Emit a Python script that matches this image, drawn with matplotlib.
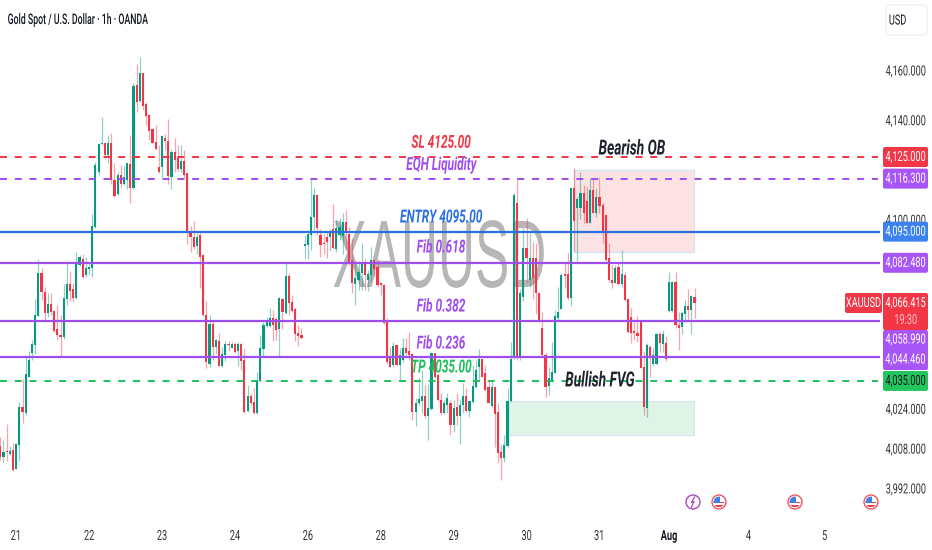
import matplotlib
matplotlib.use('Agg')
import matplotlib.pyplot as plt
from matplotlib.patches import Circle, FancyBboxPatch, Rectangle
from matplotlib.patheffects import AbstractPathEffect
from matplotlib.transforms import Affine2D

# hourly candles
opens = [4008.8,4004.3,4006.8,4005.6,4007.2,3999.6,4009.2,4024.4,4022,4036.7,
4046.3,4049.4,4061.2,4078.2,4070.9,4062.2,4065.9,4063.2,4055.9,4053.4,
4052.5,4067.8,4074,4071.8,4068.2,4081.6,4084.2,4077.5,4079.8,4080.2,
4096.7,4119,4130.2,4130.5,4125.8,4130.7,4115.7,4110,4117.7,4114.1,
4115.7,4122.2,4112.4,4153.9,4147.6,4158.6,4146.3,4141.9,4136.1,4131.1,
4121.1,4120.8,4132.7,4131.4,4116.8,4127.1,4124.4,4120.1,4123.5,4118.4,
4095.4,4092.9,4089.2,4093.6,4085.6,4061.5,4042,4057.9,4048.5,4051.2,
4041.1,4045.4,4049.7,4048.4,4049.7,4047,4049.7,4043.4,4023,4029.1,
4026.7,4022.2,4035.1,4047.8,4057.2,4057.1,4060.1,4059.7,4055.7,4067.8,
4062.2,4077.3,4066.8,4063.9,4054.1,4053.5,
4089.4,4089.6,4093.6,4100.7,4109.7,4093.6,4090.6,4092.9,4092.7,4095.9,
4088.1,4093.6,4093.2,4099,4094,4083.6,4074,4075.5,4078.2,4082.2,
4075.5,4077.6,4083.6,4080.9,4074.5,4073.5,4058.8,4044.7,4041.4,4049.4,
4041.4,4043.4,4048.1,4047.2,4045.8,4022.6,4026,4027,4028.9,4020.9,
4023.6,4046.1,4037.4,4027.3,4022,4025.3,4026,4017.3,4024.4,4020.9,
4025.3,4028.9,4023,4026.7,4032.7,4040.7,4043.7,4038,4032.4,4024.9,
4032.4,4022.6,4006.5,4003.9,4009,4027,4044.1,4106.6,4044.1,4068.9,
4088.3,4075.5,4084.3,4084.3,4070.2,4056.1,4045.4,4033,4035.4,4038.3,
4060.1,4064.1,4078,4078,4068.2,4112.4,4104.4,4104.4,4110.4,4107.5,
4098.6,4111.7,4102.6,4109,
4105.7,4101.7,4084.3,4075.5,4074.5,4080.6,4073.9,4077.6,4067.8,4060.5,
4055.2,4054.4,4058.8,4040.7,4024.3,4048.7,4042,4042,4053.8,4049.9,
4050.3,4063.2,4063.2,4074.9,4057.5,4056.5,4061.9,4065.1,4063.5,4068.8]
highs = [4012.6,4011.2,4017.7,4008.8,4010.2,4009.9,4026.6,4035.6,4044.7,4047.2,
4051.4,4067.8,4084,4080.2,4072.6,4070.2,4070.2,4063.5,4065.5,4061.5,
4074,4083,4079.3,4074.2,4086.9,4085.5,4086.2,4084.9,4082.9,4102,
4123.1,4130.5,4140.9,4130.7,4133.8,4134.5,4122.7,4119,4121.8,4121.3,
4122.7,4133.8,4154.6,4162.4,4165.3,4158.6,4147.2,4142.1,4136.5,4137.8,
4129.8,4133.8,4134.2,4140.2,4128.4,4132.5,4129.8,4129.8,4127.8,4118.7,
4097.2,4099.2,4094.6,4094.3,4086,4067.3,4061.5,4059.5,4051.7,4054.4,
4048.5,4051,4051,4050.6,4050.5,4050.8,4050.1,4048.1,4033.4,4030,
4032,4038.7,4053.5,4058.8,4060.5,4064.2,4063.5,4060.5,4068.6,4068.2,
4082.3,4078.2,4069.5,4064.2,4057.5,4056.1,
4093.6,4094.3,4116,4112.4,4109.7,4095.9,4094,4095,4096,4106.1,
4100,4100.3,4102.3,4103.7,4097,4092.3,4082.3,4083.3,4090.3,4084.2,
4079.6,4089,4083.9,4083.9,4074.9,4074,4060.1,4048.8,4050.8,4049.4,
4048.1,4052.1,4052.1,4054.8,4046.1,4028,4036,4039.4,4033.4,4033.7,
4046.8,4046.3,4038,4030,4027.3,4030,4027.3,4027.3,4030,4027.6,
4034,4032,4027.3,4041.4,4043.4,4047.7,4044,4041.4,4035.4,4035.4,
4032.9,4026,4009.2,4013.3,4032,4050.8,4110.4,4116,4072,4096.3,
4100.3,4094.3,4091,4090.3,4070.2,4062.8,4046.1,4040.7,4050.8,4063.5,
4072.9,4078.2,4082.2,4086.3,4112.4,4120.4,4109,4119,4113.7,4113,
4116.4,4116.4,4112.4,4117,
4106.6,4101.7,4090.3,4081.6,4081.6,4082.2,4087.6,4078.9,4067.8,4064.2,
4058.8,4061.1,4058.8,4046.7,4050.1,4049.4,4048.7,4054.4,4054.8,4055.4,
4053,4078.9,4075.3,4078.9,4062.8,4063.2,4067.5,4071.8,4069.5,4072.2]
lows = [4003.2,4002.5,4003,4005.2,3998.9,3999.5,4003,4018.2,4021.3,4036.4,
4043.4,4046,4061,4067.5,4059.2,4060.8,4061.5,4054.8,4051.4,4044.5,
4051.7,4065.5,4067.3,4066.8,4068,4081,4076.5,4076.9,4077.5,4076.6,
4096.3,4117.7,4130,4124.2,4122.7,4114,4109,4109.7,4112.4,4113.7,
4112.1,4106.6,4112.1,4143.2,4147.2,4143.9,4137.8,4131.8,4130.5,4128,
4118.7,4116.7,4127.8,4114.1,4112.1,4119.1,4119.3,4119.1,4116.4,4090,
4086.9,4087.9,4086.2,4072.2,4061.2,4040,4040.7,4043.4,4045.8,4041,
4040.7,4043.1,4047.2,4048.1,4046.4,4041.1,4039.4,4022.2,4022.6,4025.3,
4021.7,4021.7,4034.7,4044.7,4056.8,4056.8,4051.2,4051.4,4044.7,4055.9,
4061.8,4061.5,4062.8,4051.2,4049.2,4051.7,
4084.3,4083.9,4087.6,4095.6,4093.6,4084.9,4086,4084.3,4087.3,4088,
4087,4091.6,4086,4088,4081.6,4070.2,4065.5,4071.5,4071.5,4071.5,
4071.3,4074.9,4076.9,4072.9,4069.5,4057.8,4042,4040.5,4040.7,4041.4,
4035,4042.7,4045.4,4043.4,4019.3,4016.9,4025.3,4022,4020,4011.2,
4023.3,4036,4027,4021.3,4021.7,4022,4013.2,4014.6,4017.3,4009.6,
4022,4022.6,4020.4,4026.3,4032,4034.9,4036.7,4030.9,4026,4024.6,
4008.6,4001.9,3995.2,4002.5,4008.6,4026.6,4043.7,4043.4,4043.4,4067,
4074.2,4072.9,4068,4062,4058.8,4044.7,4028.4,4029.3,4034.7,4038,
4059.5,4063.9,4072.5,4067.5,4065.2,4087,4083.3,4100,4098.3,4098.3,
4098.3,4102.4,4101,4102.4,
4090.3,4082.9,4074.9,4072.2,4074.2,4073.5,4072.6,4067.2,4054.1,4050.3,
4051.4,4050.8,4040,4021.3,4020.6,4036.7,4041,4041.4,4046.7,4046.7,
4043.1,4062.8,4062.8,4056.1,4047.4,4053.8,4058.8,4059.5,4053.8,4060.1]
closes = [4004.5,4006.5,4006.3,4006.8,3999.2,4009.6,4024.4,4022.4,4037.6,4043.4,
4049.7,4061.5,4078.2,4070.9,4062.4,4065.9,4062.8,4055.2,4053.4,4052.5,
4068.2,4074,4071.3,4068.2,4082.2,4084.9,4076.9,4080.2,4080.9,4097.2,
4121.8,4130.2,4130.5,4125.8,4130.7,4115.7,4109.3,4117.7,4114.1,4116.8,
4122.4,4112.4,4153.6,4147.2,4158.6,4145.6,4141.4,4135.6,4130.7,4128.4,
4119,4133.4,4131.4,4117.3,4127.1,4123.8,4120.1,4123.5,4117.7,4094.9,
4092.9,4088.9,4092.9,4084.9,4061.5,4042.7,4057.9,4048.5,4051.4,4041.1,
4045.7,4049.7,4049.3,4049.7,4046.8,4049.7,4043,4022.6,4029.1,4026,
4022.2,4035.4,4048.1,4057.5,4059.5,4060.1,4057.5,4055.5,4068.2,4062.8,
4077.3,4066.2,4063.2,4053.9,4053.2,4052.1,
4090.1,4094,4100.7,4109.7,4096.3,4089.6,4089.9,4091,4095,4088.3,
4096.3,4097,4099,4094.3,4082.3,4074.2,4076.2,4078.9,4082.2,4077.6,
4078,4083.6,4079.8,4073.5,4073.5,4058.1,4042.7,4040.7,4049,4041.4,
4045.4,4048.1,4046.4,4045.4,4022.6,4026.2,4027.6,4028.9,4020.9,4024,
4046.3,4036.7,4027.3,4022,4026.2,4028,4017.3,4024,4020.9,4025.3,
4028.9,4023,4027,4033,4039.4,4043.7,4036.7,4031.3,4026.2,4032.4,
4021.7,4005.9,4003.9,4009.2,4027,4043.7,4109.7,4044.1,4070.2,4088.3,
4084.3,4084.3,4076.5,4070.2,4059.5,4045.4,4032.7,4036,4038.7,4061.1,
4062.8,4077.6,4077,4068.2,4112.4,4099.4,4108,4110.4,4102.4,4098.6,
4111.7,4102.6,4109,4105.3,
4094.3,4083.6,4075.5,4074.5,4080.2,4073.9,4078,4067.5,4054.8,4054.4,
4054.1,4053,4040,4024.6,4049.4,4044.7,4045.4,4053.8,4050.1,4053.8,
4044,4074.9,4074.9,4057.5,4056.1,4062.4,4065.1,4063.5,4069.1,4066.415]

# levels
level_prices = [4125, 4116.3, 4095, 4082.48, 4058.99, 4044.46, 4035]
level_colors = ['#f23645', '#a04df0', '#2a6fe0', '#a04df0', '#a04df0', '#a04df0', '#1fbf5f']
level_dashed = [True, True, False, False, False, False, True]

# tick labels
y_ticks = [4160, 4140, 4100, 4024, 4008, 3992]
x_tick_bars = [5, 28, 51, 74, 97, 120, 143, 166, 189, 211, 236, 260]
x_tick_labels = ['21', '22', '23', '24', '26', '28', '29', '30', '31', 'Aug', '4', '5']

red = '#f23645'
green = '#089981'
dark = '#131722'
family = 'Roboto'


class Squeeze(AbstractPathEffect):
    # the screenshot is squashed sideways, so narrow the text around its centre
    def __init__(self, sx=0.66):
        super().__init__()
        self.sx = sx

    def draw_path(self, renderer, gc, tpath, affine, rgbFace=None):
        box = tpath.get_extents()
        cx = (box.x0 + box.x1) / 2
        narrow = Affine2D().translate(-cx, 0).scale(self.sx, 1).translate(cx, 0)
        renderer.draw_path(gc, tpath, narrow + affine, rgbFace)


squeeze = [Squeeze()]

fig = plt.figure(figsize=(9.32, 5.5), dpi=100, facecolor='white')
ax = fig.add_axes([0, 28 / 550, 880 / 932, 522 / 550])
ax.set_xlim(-0.1, 277.5)
ax.set_ylim(3978.3, 4188.1)
for s in ax.spines.values():
    s.set_visible(False)

px_to_bar = lambda p: (p - 0.3) / 3.17

# watermark
ax.text(px_to_bar(440), 4082.8, 'XAUUSD', fontsize=69, family='Liberation Sans', color='#9a9a9a',
        alpha=0.72, ha='center', va='center', zorder=1, path_effects=[Squeeze(0.535)])

# zones
ax.add_patch(Rectangle((181, 4086.8), 218.8 - 181, 4119.8 - 4086.8, fc='#fde2e3', ec='#cfe4f5', lw=0.9, zorder=1.2))
ax.add_patch(Rectangle((160, 4013.2), 218.8 - 160, 4027 - 4013.2, fc='#dff3e6', ec='#d5e6f2', lw=0.9, zorder=1.2))

# candles
bars = list(range(len(opens)))
colors = [green if c >= o else red for o, c in zip(opens, closes)]
ax.vlines(bars, lows, highs, colors=colors, linewidth=0.9, alpha=0.45, zorder=2)
bottoms = [min(o, c) for o, c in zip(opens, closes)]
sizes = [max(abs(o - c), 0.5) for o, c in zip(opens, closes)]
ax.bar(bars, sizes, bottom=bottoms, width=0.68, color=colors, linewidth=0, zorder=2.2)

# horizontal levels
for price, col, dashed in zip(level_prices, level_colors, level_dashed):
    if dashed:
        ax.plot([0, 277], [price, price], color=col, lw=1.4, ls=(0, (3.6, 4.0)), zorder=3)
    else:
        ax.axhline(price, color=col, lw=1.6, zorder=3)

# drawn labels
ann_font = dict(family=family, style='italic', weight='bold', ha='center', va='center',
                zorder=4, path_effects=squeeze)
ax.text(px_to_bar(441), 4130.7, 'SL 4125.00', color=red, fontsize=13, **ann_font)
ax.text(px_to_bar(441), 4121.8, 'EQH Liquidity', color='#a04df0', fontsize=13, **ann_font)
ax.text(px_to_bar(441), 4100.7, 'ENTRY 4095.00', color='#2a6fe0', fontsize=13, **ann_font)
ax.text(px_to_bar(441), 4088.6, 'Fib 0.618', color='#a04df0', fontsize=13, **ann_font)
ax.text(px_to_bar(441), 4064.9, 'Fib 0.382', color='#a04df0', fontsize=13, **ann_font)
ax.text(px_to_bar(441), 4050.0, 'Fib 0.236', color='#a04df0', fontsize=13, **ann_font)
ax.text(px_to_bar(441), 4040.4, 'TP 4035.00', color='#1fbf5f', fontsize=13, **ann_font)
ax.text(px_to_bar(632), 4128.2, 'Bearish OB', color='#1e222d', fontsize=15, **ann_font)
ax.text(px_to_bar(600), 4035.0, 'Bullish FVG', color='#1e222d', fontsize=15, **ann_font)

# axes text
ax.yaxis.tick_right()
ax.set_yticks(y_ticks)
ax.set_yticklabels([f'{v:,.3f}' for v in y_ticks])
ax.tick_params(axis='y', length=0, pad=18.5, labelsize=10, labelcolor='#333333')
for lbl in ax.get_yticklabels():
    lbl.set_ha('center')
    lbl.set_family(family)
    lbl.set_path_effects(squeeze)
ax.set_xticks(x_tick_bars)
ax.set_xticklabels(x_tick_labels)
ax.tick_params(axis='x', length=0, pad=5, labelsize=10, labelcolor='#333333')
for lbl in ax.get_xticklabels():
    lbl.set_family(family)
    lbl.set_path_effects(squeeze)
    if lbl.get_text() == 'Aug':
        lbl.set_weight('bold')
        lbl.set_color(dark)

# pixel helpers for the decoration outside the plot
px = Affine2D().scale(1, -1).translate(0, 550)
ymap = lambda p: 550 - ax.transData.transform((0, p))[1]


def tag(x0, x1, y0, y1, col):
    ax.add_patch(FancyBboxPatch((x0 + 1, y0 + 1), x1 - x0 - 2, y1 - y0 - 2, boxstyle='round,pad=1,rounding_size=2',
                                fc=col, ec='none', transform=px, clip_on=False, zorder=10))


def tag_text(x, y, s, col='white'):
    ax.text(x, y, s, color=col, fontsize=10, family=family, ha='center', va='center', transform=px,
            clip_on=False, zorder=11, path_effects=squeeze)


tag_x0, tag_x1 = 883, 928
tag_tc = 905.5
y125 = ymap(4125)
tag(tag_x0, tag_x1, y125 - 10, y125 + 10, '#f23645')
tag_text(tag_tc, y125, '4,125.000')
y116 = ymap(4116.3)
tag(tag_x0, tag_x1, y116 - 10, y116 + 10, '#a855f7')
tag_text(tag_tc, y116, '4,116.300')
y95 = ymap(4095)
tag(tag_x0, tag_x1, y95 - 10, y95 + 10, '#3b82ee')
tag_text(tag_tc, y95, '4,095.000')
y82 = ymap(4082.48)
tag(tag_x0, tag_x1, y82 - 10, y82 + 10, '#a855f7')
tag_text(tag_tc, y82, '4,082.480')
tag(845, 882, 293, 313, '#f23645')
tag_text(863.5, 303, 'XAUUSD')
tag(tag_x0, tag_x1, 293, 330, '#f23645')
tag_text(tag_tc, 303, '4,066.415')
tag_text(tag_tc, 320, '19:30', '#f9c4c9')
tag(tag_x0, tag_x1, 330, 370, '#a855f7')
tag_text(tag_tc, 339.5, '4,058.990')
tag_text(tag_tc, 359.5, '4,044.460')
y35 = ymap(4035)
tag(tag_x0, tag_x1, y35 - 10, y35 + 10, '#22c55e')
tag_text(tag_tc, y35, '4,035.000', dark)

# header
ax.add_patch(FancyBboxPatch((886, 5), 41, 30, boxstyle='round,pad=0,rounding_size=4', fc='white', ec='#eef0f3',
                            lw=0.9, transform=px, clip_on=False, zorder=10))
ax.text(897.5, 20.5, 'USD', color=dark, fontsize=10, family=family, ha='center', va='center', transform=px,
        clip_on=False, zorder=11, path_effects=squeeze)
ax.text(78, 20, 'Gold Spot / U.S. Dollar · 1h · OANDA', color=dark, fontsize=10.5, family=family, weight='medium',
        ha='center', va='center', transform=px, clip_on=False, zorder=11, path_effects=[Squeeze(0.6)])


# event icons along the bottom of the chart
def flag_icon(x, y):
    ax.add_patch(Circle((x, y), 7, fc='white', ec='#f0565f', lw=1.0, transform=px, clip_on=False, zorder=6))
    clip = Circle((x, y), 5.4, transform=px)
    for rect in [Rectangle((x - 6, y - 0.5), 12, 1.8, fc='#ef4050', ec='none', transform=px, zorder=7),
                 Rectangle((x - 6, y + 2.8), 12, 2.6, fc='#ef4050', ec='none', transform=px, zorder=7),
                 Rectangle((x - 6, y - 6), 6.5, 6.5, fc='#3f7fe8', ec='none', transform=px, zorder=8)]:
        ax.add_patch(rect)
        rect.set_clip_path(clip)


flag_icon(719, 502)
flag_icon(795, 502)
flag_icon(871, 502)
ax.add_patch(Circle((693, 502), 7, fc='white', ec='#ab47bc', lw=1.0, transform=px, clip_on=False, zorder=6))
ax.plot([694.5, 691.5, 694, 691.5], [497, 502.5, 501.5, 507], color='#ab47bc', lw=0.9, transform=px,
        clip_on=False, zorder=7)

fig.savefig('out.png', dpi=100)
